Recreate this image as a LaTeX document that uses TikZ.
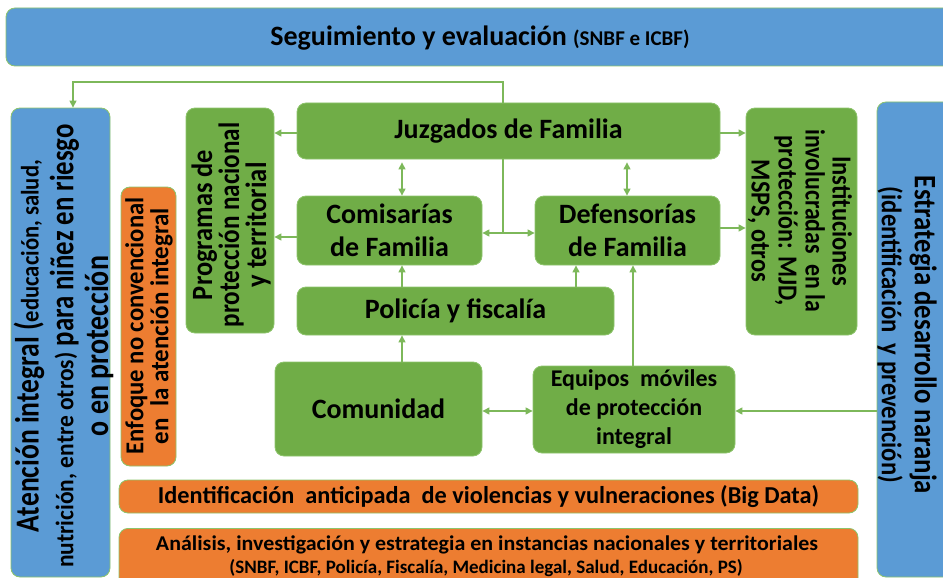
\documentclass[tikz,border=0pt]{standalone}
\usepackage{fontspec}
\usepackage{graphicx}
\setmainfont{Carlito}
\usetikzlibrary{arrows.meta}
\definecolor{bl}{HTML}{5B9BD5}
\definecolor{gr}{HTML}{70AD47}
\definecolor{orng}{HTML}{ED7D31}
\definecolor{edge}{HTML}{8DC46C}
\definecolor{ln}{HTML}{7DB85A}
\newcommand\fsz[2]{\fontsize{#1}{#2}\selectfont}
\newcommand\fw[2]{\resizebox{#1}{\height}{#2}}
\begin{document}
\begin{tikzpicture}[x=1pt,y=-1pt,
 box/.style={draw=edge, line width=0.8pt, rounded corners=9pt, inner sep=0pt, font=\bfseries, align=center, text=black},
 gbox/.style={box, fill=gr},
 bbox/.style={box, fill=bl},
 obox/.style={box, fill=orng},
 arr/.style={draw=ln, line width=1.2pt, -{Triangle[length=7pt,width=7pt]}},
 darr/.style={draw=ln, line width=1.2pt, {Triangle[length=7pt,width=7pt]}-{Triangle[length=7pt,width=7pt]}},
 plainln/.style={draw=ln, line width=1.2pt},
 lbl/.style={font=\bfseries, align=center, inner sep=0pt, text=black},
 vup/.style={lbl, rotate=90, yscale=1.2},
 vdown/.style={lbl, rotate=-90, yscale=1.2},
 big/.style={font=\bfseries\fsz{28}{33}}]
\useasboundingbox (0,0) rectangle (943,578);
\clip (0,0) rectangle (943,578);

% boxes
\node[bbox, minimum width=954pt, minimum height=58pt] (top) at (483,37) {};
\node[lbl, font=\bfseries\fsz{28}{32}] (ttop) at (480,38) {Seguimiento y evaluación {\fsz{21}{24}(SNBF e ICBF)}};

\node[bbox, minimum width=99pt, minimum height=469pt] (atl) at (60.5,342.5) {};
\node[vup, font=\bfseries\fsz{28}{29}] (tatl) at (63.5,346) {\fw{210pt}{Atención integral (}\fw{162pt}{\fsz{21}{29}educación, salud,}\\
\fw{215pt}{\fsz{21}{29}nutrición, entre otros)} \fw{222pt}{para niñez en riesgo}\\\fw{180pt}{o en protección}};

\node[obox, minimum width=55pt, minimum height=279pt] (enf) at (148.5,326.5) {};
\node[vup, font=\bfseries\fsz{21.5}{21}] (tenf) at (149,326) {\fw{257pt}{Enfoque no convencional}\\\fw{236pt}{en\ \ la atención integral}};

\node[gbox, minimum width=88pt, minimum height=225pt] (prog) at (230,220.5) {};
\node[vup, font=\bfseries\fsz{24.5}{22.5}] (tprog) at (231,225) {\fw{150pt}{Programas de}\\\fw{205pt}{protección nacional}\\\fw{125pt}{y territorial}};

\node[gbox, big, minimum width=423pt, minimum height=56pt] (juz) at (508.5,131) {Juzgados de Familia};
\node[gbox, big, minimum width=185pt, minimum height=69pt] (com) at (389.5,230.5) {Comisarías\\de Familia};
\node[gbox, big, minimum width=185pt, minimum height=69pt] (def) at (627.5,230.5) {Defensorías\\de Familia};
\node[gbox, big, minimum width=317pt, minimum height=48pt] (pol) at (455.5,311) {Policía y fiscalía};
\node[gbox, big, minimum width=207pt, minimum height=94pt] (comu) at (378.5,409) {Comunidad};
\node[gbox, font=\bfseries\fsz{24}{29}, minimum width=202pt, minimum height=87pt] (equ) at (634,409.5) {Equipos\ \ móviles\\de protección\\integral};

\node[gbox, minimum width=111pt, minimum height=227pt] (inst) at (801.5,221.5) {};
\node[vdown, font=\bfseries\fsz{23}{22.5}] (tinst) at (800,221) {\fw{130pt}{Instituciones}\\\fw{183pt}{involucradas\ \ en la}\\\fw{170pt}{protección: MJD,}\\\fw{122pt}{MSPS, otros}};

\node[bbox, minimum width=113pt, minimum height=475pt] (rb) at (933.5,339.5) {};
\node[vdown, font=\bfseries\fsz{26}{27.5}] (trb) at (907,335) {\fw{318pt}{Estrategia desarrollo naranja}\\\fw{296pt}{\fsz{23.5}{27.5}(identificación\ \ y prevención)}};

\node[obox, font=\bfseries\fsz{24.3}{28}, minimum width=739pt, minimum height=33pt] (ide) at (488.5,496.5) {Identificación\ \ anticipada\ \ de violencias y vulneraciones (Big Data)};
\node[obox, minimum width=739pt, minimum height=64pt, anchor=north] (ana) at (488.5,528) {};
\node[lbl, font=\bfseries\fsz{21}{24}] (tana1) at (487,545) {\fw{662pt}{Análisis, investigación y estrategia en instancias nacionales y territoriales}};
\node[lbl, font=\bfseries\fsz{19}{22}] (tana2) at (486,568) {(SNBF, ICBF, Policía, Fiscalía, Medicina legal, Salud, Educación, PS)};

% helper coordinates
\coordinate (tj) at (503,82);
\coordinate (ta) at (73,0);
\coordinate (mid) at (503,233);
\coordinate (x402) at (402,0);
\coordinate (x627) at (627,0);
\coordinate (x576) at (576,0);
\coordinate (x633) at (633,0);
\coordinate (y133) at (0,133);
\coordinate (y237) at (0,237);
\coordinate (y228) at (0,228);
\coordinate (y411) at (0,411);

% connectors
\draw[arr] (juz.north -| tj) -- (tj) -| (atl.north -| ta);
\draw[plainln] (juz.south -| mid) -- (mid);
\draw[darr] (com.east |- mid) -- (def.west |- mid);
\draw[darr, shorten <=3pt] (juz.south -| x402) -- (com.north -| x402);
\draw[darr, shorten <=3pt] (juz.south -| x627) -- (def.north -| x627);
\draw[arr] (juz.west |- y133) -- (prog.east |- y133);
\draw[arr] (com.west |- y237) -- (prog.east |- y237);
\draw[arr] (juz.east |- y133) -- (inst.west |- y133);
\draw[arr] (def.east |- y228) -- (inst.west |- y228);
\draw[arr] (pol.north -| x402) -- (com.south -| x402);
\draw[arr] (pol.north -| x576) -- (def.south -| x576);
\draw[arr] (equ.north -| x633) -- (def.south -| x633);
\draw[arr] (comu.north -| x402) -- (pol.south -| x402);
\draw[darr] (comu.east |- y411) -- (equ.west |- y411);
\draw[arr] (rb.west |- y411) -- (equ.east |- y411);
\end{tikzpicture}
\end{document}
